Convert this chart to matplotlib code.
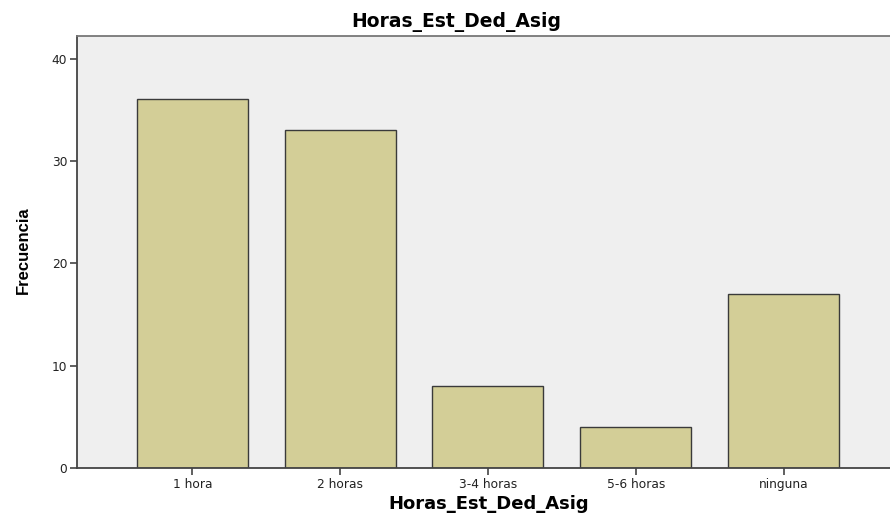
import matplotlib.pyplot as plt

categorias = ['1 hora', '2 horas', '3-4 horas', '5-6 horas', 'ninguna']
frecuencia = [36, 33, 8, 4, 17]
yticks = [0, 10, 20, 30, 40]

plt.rcParams['font.family'] = ['DejaVu Sans']

fig = plt.figure(figsize=(8.9, 5.15), dpi=100)
ax = fig.add_axes([0.0865, 0.0913, 0.9135, 0.8388])
ax.set_facecolor('#efefef')

x = list(range(len(categorias)))
ax.bar(x, frecuencia, width=0.75, color='#d3ce97', edgecolor='#3a3a3a', linewidth=1.0, zorder=2)

ax.set_xlim(-0.78, 4.72)
ax.set_ylim(0, 42.2)
ax.set_xticks(x)
ax.set_xticklabels(categorias, fontsize=8.8)
ax.set_yticks(yticks)
ax.set_yticklabels([str(v) for v in yticks], fontsize=8.8)
ax.tick_params(axis='both', direction='out', length=5, width=1.2, color='#444444', labelcolor='#222222')
ax.tick_params(axis='y', pad=2)
ax.tick_params(axis='x', pad=2)

for s in ['left', 'bottom']:
    ax.spines[s].set_color('#444444')
    ax.spines[s].set_linewidth(1.3)
ax.spines['top'].set_color('#777777')
ax.spines['top'].set_linewidth(1.3)
ax.spines['right'].set_visible(False)

fig.text(0.513, 0.957, 'Horas_Est_Ded_Asig', ha='center', va='center', fontsize=13.5, fontweight='bold')
fig.text(0.549, 0.003, 'Horas_Est_Ded_Asig', ha='center', va='bottom', fontsize=13, fontweight='bold')
fig.text(0.026, 0.515, 'Frecuencia', ha='center', va='center', rotation=90, fontsize=12,
         fontweight='bold', family=['Liberation Sans Narrow', 'Liberation Sans', 'DejaVu Sans'])

fig.savefig('out.png', dpi=100)
